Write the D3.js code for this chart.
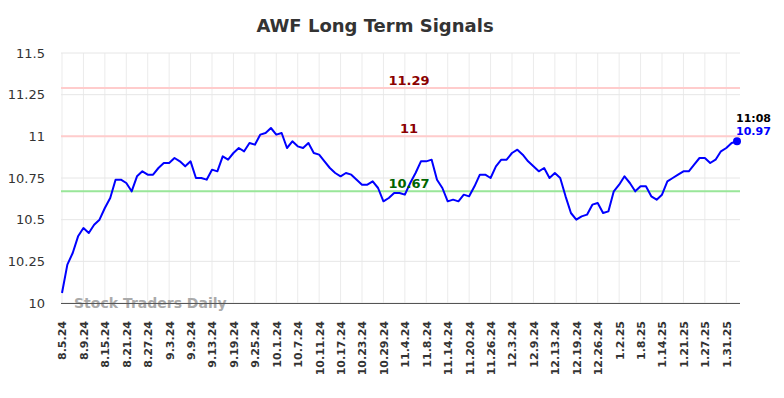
<!DOCTYPE html>
<html>
<head>
<meta charset="utf-8">
<script src="https://cdn.jsdelivr.net/npm/d3@7"></script>
<style>
  body { margin: 0; background: #fff; }
  svg { font-family: "DejaVu Sans", sans-serif; }
</style>
</head>
<body>
<svg id="chart"></svg>
<script>
var width = 784;
var height = 398;

// closing prices, one per trading day from 8.5.24 to the last intraday quote
var prices = [
  10.06, 10.23, 10.30, 10.40, 10.45, 10.42, 10.47, 10.50, 10.57, 10.63,
  10.74, 10.74, 10.72, 10.67, 10.76, 10.79, 10.77, 10.77, 10.81, 10.84,
  10.84, 10.87, 10.85, 10.82, 10.85, 10.75, 10.75, 10.74, 10.80, 10.79,
  10.88, 10.86, 10.90, 10.93, 10.91, 10.96, 10.95, 11.01, 11.02, 11.05,
  11.01, 11.02, 10.93, 10.97, 10.94, 10.93, 10.96, 10.90, 10.89, 10.85,
  10.81, 10.78, 10.76, 10.78, 10.77, 10.74, 10.71, 10.71, 10.73, 10.69,
  10.61, 10.63, 10.66, 10.66, 10.65, 10.72, 10.78, 10.85, 10.85, 10.86,
  10.74, 10.69, 10.61, 10.62, 10.61, 10.65, 10.64, 10.70, 10.77, 10.77,
  10.75, 10.82, 10.86, 10.86, 10.90, 10.92, 10.89, 10.85, 10.82, 10.79,
  10.81, 10.75, 10.78, 10.75, 10.64, 10.54, 10.50, 10.52, 10.53, 10.59,
  10.60, 10.54, 10.55, 10.67, 10.71, 10.76, 10.72, 10.67, 10.70, 10.70,
  10.64, 10.62, 10.65, 10.73, 10.75, 10.77, 10.79, 10.79, 10.83, 10.87,
  10.87, 10.84, 10.86, 10.91, 10.93, 10.96, 10.97
];

// x tick labels, one every 4 trading days
var tickLabels = ["8.5.24","8.9.24","8.15.24","8.21.24","8.27.24","9.3.24","9.9.24",
  "9.13.24","9.19.24","9.25.24","10.1.24","10.7.24","10.11.24","10.17.24","10.23.24",
  "10.29.24","11.4.24","11.8.24","11.14.24","11.20.24","11.26.24","12.3.24","12.9.24",
  "12.13.24","12.19.24","12.26.24","1.2.25","1.8.25","1.14.25","1.21.25","1.27.25","1.31.25"];
var tickStep = 4;

var yTicks = [10, 10.25, 10.5, 10.75, 11, 11.25, 11.5];

// signal levels
var levels = [11.29, 11, 10.67];
var levelLabels = ["11.29", "11", "10.67"];
var levelLine = ["#ffcccc", "#ffcccc", "#99e699"];
var levelText = ["#8b0000", "#8b0000", "#006400"];

var lastTime = "11:08";

var margin = { left: 61, right: 44, top: 53, bottom: 95 };
var plotRight = width - margin.right;
var plotBottom = height - margin.bottom;

var svg = d3.select("#chart")
  .attr("width", width)
  .attr("height", height);

var x = d3.scaleLinear()
  .domain([0, prices.length - 1])
  .range([62, 737]);

var y = d3.scaleLinear()
  .domain([10, 11.5])
  .range([plotBottom, margin.top]);

// title
svg.append("text")
  .attr("x", 375)
  .attr("y", 32)
  .attr("text-anchor", "middle")
  .style("font-size", "18px")
  .style("font-weight", "bold")
  .style("fill", "#333")
  .text("AWF Long Term Signals");

// gridlines
var tickIdx = d3.range(0, tickLabels.length * tickStep, tickStep);
svg.append("g")
  .selectAll("line")
  .data(tickIdx)
  .join("line")
  .attr("x1", function (d) { return x(d); })
  .attr("x2", function (d) { return x(d); })
  .attr("y1", margin.top)
  .attr("y2", plotBottom)
  .attr("stroke", "#ebebeb")
  .attr("stroke-width", 1);

svg.append("g")
  .selectAll("line")
  .data(yTicks)
  .join("line")
  .attr("x1", margin.left)
  .attr("x2", plotRight)
  .attr("y1", function (d) { return y(d); })
  .attr("y2", function (d) { return y(d); })
  .attr("stroke", "#e6e6e6")
  .attr("stroke-width", 1);

// y axis labels
var yAxis = svg.append("g")
  .attr("transform", "translate(" + (margin.left - 13) + ",0)")
  .call(d3.axisLeft(y).tickValues(yTicks).tickSize(0).tickFormat(function (d) { return d3.format("")(d); }));
yAxis.select(".domain").remove();
yAxis.selectAll("text")
  .style("font-size", "13px")
  .style("fill", "#333")
  .style("font-family", "DejaVu Sans, sans-serif");

// signal levels
svg.append("g")
  .selectAll("line")
  .data(levels)
  .join("line")
  .attr("x1", margin.left)
  .attr("x2", plotRight)
  .attr("y1", function (d) { return y(d); })
  .attr("y2", function (d) { return y(d); })
  .attr("stroke", function (d, i) { return levelLine[i]; })
  .attr("stroke-width", 2);

// watermark
svg.append("text")
  .attr("x", 74)
  .attr("y", 308)
  .style("font-size", "14px")
  .style("font-weight", "bold")
  .style("fill", "#aaa")
  .text("Stock Traders Daily");

// x axis
var xAxis = svg.append("g")
  .attr("transform", "translate(0," + plotBottom + ")")
  .call(d3.axisBottom(x).tickValues(tickIdx).tickSize(0)
    .tickFormat(function (d, i) { return tickLabels[i]; }));
xAxis.select(".domain")
  .attr("d", "M" + margin.left + ",0.5H" + plotRight)
  .attr("stroke", "#555")
  .attr("stroke-width", 1.2);
xAxis.selectAll("text")
  .attr("transform", "rotate(-90)")
  .attr("text-anchor", "end")
  .attr("x", -18)
  .attr("y", 0)
  .attr("dy", "0.35em")
  .style("font-size", "11px")
  .style("font-weight", "bold")
  .style("fill", "#333")
  .style("font-family", "DejaVu Sans, sans-serif");

// price line
var line = d3.line()
  .x(function (d, i) { return x(i); })
  .y(function (d) { return y(d); });

svg.append("path")
  .datum(prices)
  .attr("d", line)
  .attr("fill", "none")
  .attr("stroke", "#0000ff")
  .attr("stroke-width", 2)
  .attr("stroke-linejoin", "round");

// level labels
svg.append("g")
  .selectAll("text")
  .data(levels)
  .join("text")
  .attr("x", 409)
  .attr("y", function (d) { return y(d) - 3; })
  .attr("text-anchor", "middle")
  .style("font-size", "13px")
  .style("font-weight", "bold")
  .style("fill", function (d, i) { return levelText[i]; })
  .text(function (d, i) { return levelLabels[i]; });

// last point marker
var lastI = prices.length - 1;
svg.append("circle")
  .attr("cx", x(lastI))
  .attr("cy", y(prices[lastI]))
  .attr("r", 4)
  .attr("fill", "#0000ff");

svg.append("text")
  .attr("x", x(lastI) - 1)
  .attr("y", y(prices[lastI]) - 19)
  .style("font-size", "11px")
  .style("font-weight", "bold")
  .style("fill", "#000")
  .text(lastTime);

svg.append("text")
  .attr("x", x(lastI) - 1)
  .attr("y", y(prices[lastI]) - 6)
  .style("font-size", "11px")
  .style("font-weight", "bold")
  .style("fill", "#0000ff")
  .text(d3.format(".2f")(prices[lastI]));
</script>
</body>
</html>
